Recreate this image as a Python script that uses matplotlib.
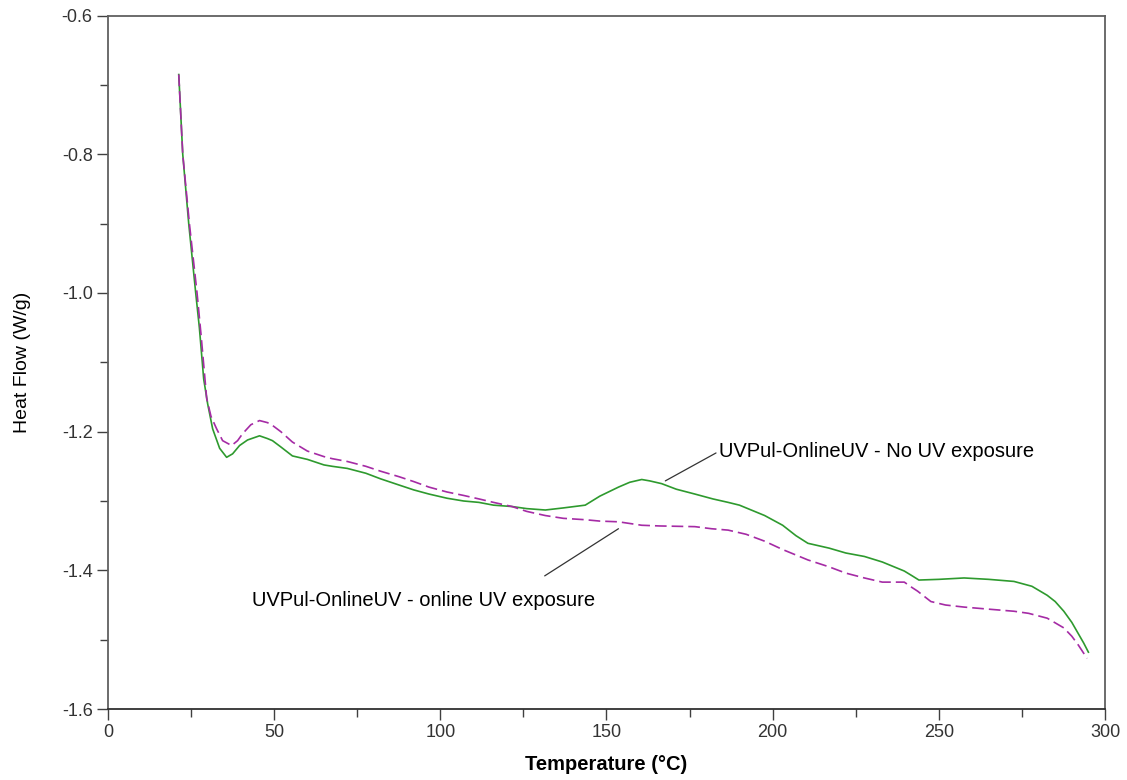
import matplotlib
matplotlib.use("Agg")
import matplotlib.pyplot as plt
from matplotlib.ticker import MultipleLocator, FormatStrFormatter

plt.rcParams['font.family'] = ['Liberation Sans', 'DejaVu Sans']

# Green solid: No UV exposure
temp_no_uv = [21.3, 22.5, 24.3, 26.4, 27.5, 28.8, 30, 31.5, 33.6, 35.7, 37.5, 39.6, 42,
              45.6, 48, 49.5, 52, 55.5, 60, 65, 67.5, 72, 77.6, 82, 87.6, 92, 96.6, 102,
              107, 111.6, 116, 121.6, 126, 131.6, 137, 143.6, 148, 153.6, 157, 160.6, 163,
              166.6, 171, 176.6, 182, 186.6, 190, 197.6, 203, 207, 210.6, 217, 222, 227.6,
              233, 239.6, 242, 244, 250, 257.6, 265, 272.6, 278, 282.6, 285, 287.6, 290,
              293.6, 295]
hf_no_uv = [-0.685, -0.80, -0.90, -1.00, -1.05, -1.124, -1.16, -1.196, -1.224, -1.237,
            -1.232, -1.220, -1.212, -1.206, -1.210, -1.213, -1.222, -1.235, -1.240, -1.248,
            -1.250, -1.253, -1.260, -1.268, -1.277, -1.284, -1.290, -1.296, -1.300, -1.302,
            -1.306, -1.308, -1.311, -1.313, -1.310, -1.306, -1.293, -1.280, -1.273, -1.269,
            -1.271, -1.275, -1.283, -1.290, -1.297, -1.302, -1.306, -1.321, -1.335, -1.350,
            -1.361, -1.368, -1.375, -1.380, -1.388, -1.401, -1.408, -1.414, -1.413, -1.411,
            -1.413, -1.416, -1.423, -1.436, -1.445, -1.459, -1.475, -1.505, -1.518]

# Magenta dashed: online UV exposure
temp_online = [21.3, 22.5, 24.5, 26.8, 28, 29.7, 31, 32.7, 34.5, 37.2, 39, 40.5, 43, 45.6,
               48, 49.5, 52, 55.5, 60, 65, 67.5, 72, 77.6, 82, 87.6, 92, 96.6, 102, 107,
               111.6, 116, 121.6, 126, 131.6, 137, 143.6, 148, 153.6, 160.6, 166, 176.6,
               181.6, 186.6, 192, 197.6, 203, 210.6, 217, 222, 227.6, 233, 239.6, 242,
               243.6, 247.6, 252, 257.6, 265, 272.6, 277, 282.6, 287.6, 290, 292, 294.6]
hf_online = [-0.685, -0.80, -0.90, -1.00, -1.06, -1.152, -1.178, -1.196, -1.213, -1.220,
             -1.213, -1.203, -1.190, -1.184, -1.187, -1.191, -1.200, -1.215, -1.228, -1.236,
             -1.239, -1.243, -1.250, -1.257, -1.265, -1.272, -1.280, -1.287, -1.292, -1.297,
             -1.302, -1.308, -1.315, -1.321, -1.325, -1.327, -1.329, -1.330, -1.335, -1.336,
             -1.337, -1.340, -1.342, -1.348, -1.358, -1.370, -1.385, -1.395, -1.404, -1.411,
             -1.417, -1.417, -1.425, -1.430, -1.445, -1.450, -1.453, -1.456, -1.459, -1.462,
             -1.469, -1.483, -1.495, -1.508, -1.527]

label_no_uv = "UVPul-OnlineUV - No UV exposure"
label_online = "UVPul-OnlineUV - online UV exposure"

fig = plt.figure(figsize=(11.27, 7.80), dpi=100)
ax = fig.add_axes([0.0958, 0.091, 0.8847, 0.889])

ax.plot(temp_no_uv, hf_no_uv, color='#2e9a2e', lw=1.2, ls='-')
ax.plot(temp_online, hf_online, color='#a52ba5', lw=1.2, ls=(0, (7, 3)))

ax.set_xlim(0, 300)
ax.set_ylim(-1.6, -0.6)
ax.xaxis.set_major_locator(MultipleLocator(50))
ax.xaxis.set_minor_locator(MultipleLocator(25))
ax.yaxis.set_major_locator(MultipleLocator(0.2))
ax.yaxis.set_minor_locator(MultipleLocator(0.1))
ax.yaxis.set_major_formatter(FormatStrFormatter('%.1f'))

spine_col = '#606060'
for s in ax.spines.values():
    s.set_color(spine_col)
    s.set_linewidth(1.3)
ax.spines['bottom'].set_color('#303030')
ax.tick_params(which='major', direction='out', length=8, width=1, color='#404040',
               labelsize=13, labelcolor='#333333', pad=3)
ax.tick_params(which='minor', direction='out', length=6, width=1, color='#404040')

ax.set_xlabel('Temperature (°C)', fontsize=14.5, fontweight='bold', labelpad=10)
ax.set_ylabel('Heat Flow (W/g)', fontsize=14, labelpad=22)

ax.annotate(label_no_uv, xy=(167.7, -1.271), xytext=(183.9, -1.228),
            fontsize=14.5, color='black', va='center', ha='left',
            arrowprops=dict(arrowstyle='-', color='#333333', lw=0.9, shrinkA=0, shrinkB=0,
                            relpos=(-0.01, 0.4)))
ax.annotate(label_online, xy=(153.6, -1.340), xytext=(43.2, -1.444),
            fontsize=14.5, color='black', va='center', ha='left')
ax.annotate('', xy=(153.6, -1.340), xytext=(131.4, -1.408),
            arrowprops=dict(arrowstyle='-', color='#333333', lw=0.9, shrinkA=0, shrinkB=0))

fig.savefig('out.png', dpi=100)
